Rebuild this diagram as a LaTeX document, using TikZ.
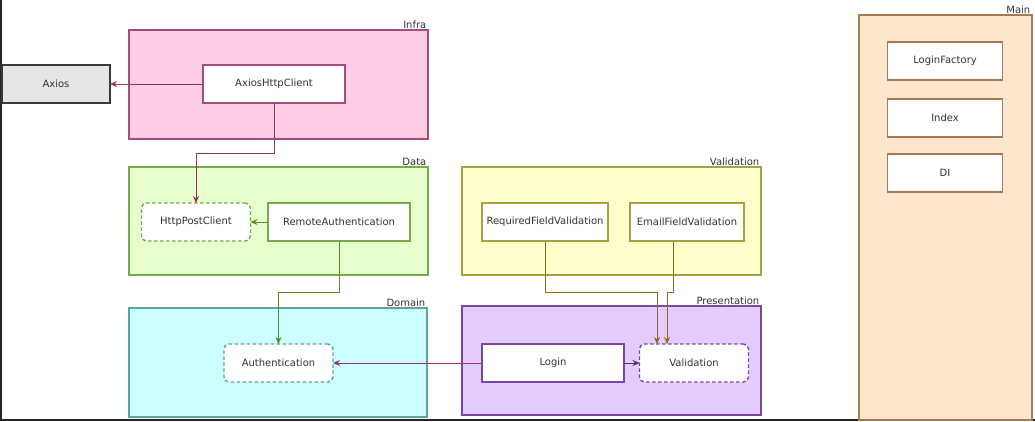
\documentclass[tikz,border=0pt]{standalone}
\usepackage{fontspec}
\setmainfont{DejaVu Sans}
\usetikzlibrary{arrows.meta}

\definecolor{infraFill}{HTML}{FFCCE6}
\definecolor{infraLine}{HTML}{A24D7C}
\definecolor{dataFill}{HTML}{E6FFCC}
\definecolor{dataLine}{HTML}{79A84A}
\definecolor{domainFill}{HTML}{CCFFFF}
\definecolor{domainLine}{HTML}{5FA39A}
\definecolor{validFill}{HTML}{FFFFCC}
\definecolor{validLine}{HTML}{A3A344}
\definecolor{presFill}{HTML}{E5CCFF}
\definecolor{presLine}{HTML}{7A45A6}
\definecolor{mainFill}{HTML}{FFE6CC}
\definecolor{mainLine}{HTML}{A6794F}
\definecolor{axiosFill}{HTML}{E6E6E6}
\definecolor{axiosLine}{HTML}{36393D}
\definecolor{magArrowC}{HTML}{99335F}
\definecolor{greenArrowC}{HTML}{5B8A2A}
\definecolor{brownArrowC}{HTML}{8C6A22}
\definecolor{purpArrowC}{HTML}{5A2D82}
\definecolor{txt}{HTML}{333333}

\tikzset{
  layer/.style n args={2}{draw=#1, fill=#2, line width=1.4pt, anchor=north west, outer sep=0pt},
  layername/.style={anchor=south east, inner sep=1.5pt, text=txt},
  box/.style={draw=#1, fill=white, line width=1.4pt, minimum width=142, minimum height=38, text=txt, outer sep=0pt},
  iface/.style={box=#1, dash pattern=on 3.5pt off 2.5pt, rounded corners=5pt, minimum width=109},
  dep/.style={draw=#1, line width=1pt, -{Stealth[length=7pt,width=6pt]}}
}

\begin{document}
\begin{tikzpicture}[x=1pt,y=-1pt,font=\fontsize{10}{12}\selectfont]
\useasboundingbox (0,0) rectangle (1035,421);
\draw[line width=2pt,black!85] (1,0) -- (1,420) -- (1035,420);

% layers
\node[layer={infraLine}{infraFill}, minimum width=299, minimum height=109] (infra) at (129,30) {};
\node[layername] (infraName) at (infra.north east) {Infra};
\node[layer={dataLine}{dataFill}, minimum width=299, minimum height=108] (data) at (129,167) {};
\node[layername] (dataName) at (data.north east) {Data};
\node[layer={domainLine}{domainFill}, minimum width=298, minimum height=109] (domain) at (129,308) {};
\node[layername] (domainName) at (domain.north east) {Domain};
\node[layer={validLine}{validFill}, minimum width=299, minimum height=108] (validation) at (462,167) {};
\node[layername] (validationName) at (validation.north east) {Validation};
\node[layer={presLine}{presFill}, minimum width=299, minimum height=109] (pres) at (462,306) {};
\node[layername] (presName) at (pres.north east) {Presentation};
\node[layer={mainLine}{mainFill}, minimum width=173, minimum height=405] (main) at (859,15) {};
\node[layername] (mainName) at (main.north east) {Main};

% classes
\node[box=axiosLine, fill=axiosFill, minimum width=108] (axios) at (56,84) {Axios};
\node[box=infraLine] (client) at (274,84) {AxiosHttpClient};
\node[iface=dataLine] (post) at (196,222) {HttpPostClient};
\node[box=dataLine] (remote) at (339,222) {RemoteAuthentication};
\node[iface=domainLine] (auth) at (278.5,363) {Authentication};
\node[box=validLine, minimum width=126] (required) at (545,222) {RequiredFieldValidation};
\node[box=validLine, minimum width=114] (email) at (687,222) {EmailFieldValidation};
\node[box=presLine] (login) at (553,363) {Login};
\node[iface=presLine] (valid) at (694,363) {Validation};
\node[box=mainLine, minimum width=115] (factory) at (945,61) {LoginFactory};
\node[box=mainLine, minimum width=115] (index) at (945,118) {Index};
\node[box=mainLine, minimum width=115] (di) at (945,173) {DI};

% dependencies
\draw[dep=magArrowC] (client.west) -- (axios.east);
\draw[dep=magArrowC] (client.south) -- ++(0,50) -| (post.north);
\draw[dep=greenArrowC] (remote.west) -- (post.east);
\draw[dep=greenArrowC] (remote.south) -- ++(0,51) -| (auth.north);
\draw[dep=magArrowC] (login.west) -- (auth.east);
\draw[dep=purpArrowC] (login.east) -- (valid.west);
\draw[dep=brownArrowC] (required.south) -- ++(0,51) -| ([xshift=-37]valid.north);
\draw[dep=brownArrowC] ([xshift=-14]email.south) -- ++(0,51) -| ([xshift=-27]valid.north);
\end{tikzpicture}
\end{document}
